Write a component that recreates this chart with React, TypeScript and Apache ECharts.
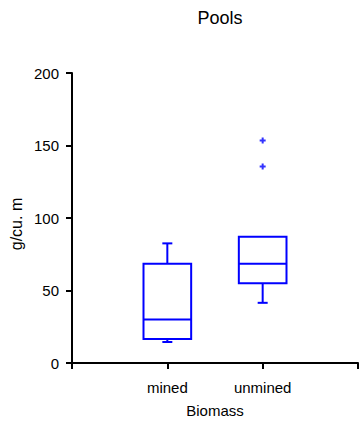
import React, { useEffect, useRef } from "react";
import * as echarts from "echarts";

const categories = ["", "mined", "unmined", ""];
// [category index, min, q1, median, q3, max]
const boxes = [
  [1, 14.5, 16.5, 30, 68.5, 82.5],
  [2, 41.5, 55, 68.5, 87, 87],
];
const outliers = [
  [2, 135.5],
  [2, 153.5],
];
const yTicks = { min: 0, max: 200, interval: 50 };

const BLUE = "#0000ff";
const FONT = "'Liberation Sans', Arial, sans-serif";

export default function App() {
  const ref = useRef<HTMLDivElement>(null);
  useEffect(() => {
    if (!ref.current) return;
    const chart = echarts.init(ref.current, null, { renderer: "svg" });
    chart.setOption({
      animation: false,
      backgroundColor: "#fff",
      title: {
        text: "Pools",
        left: 215,
        textAlign: "center",
        top: 4,
        textStyle: { fontFamily: FONT, fontSize: 18, fontWeight: "normal", color: "#000" },
      },
      graphic: [
        {
          type: "text",
          x: 16,
          y: 224,
          rotation: Math.PI / 2,
          style: {
            text: "g/cu. m",
            fontFamily: FONT,
            fontSize: 16,
            fill: "#000",
            align: "center",
            verticalAlign: "middle",
          },
        },
      ],
      grid: { left: 72, right: 4, top: 73, bottom: 60, containLabel: false, outerBoundsMode: "none" },
      xAxis: {
        type: "category",
        data: categories,
        boundaryGap: false,
        name: "Biomass",
        nameLocation: "middle",
        nameGap: 40,
        nameMoveOverlap: false,
        nameTextStyle: { fontFamily: FONT, fontSize: 15, color: "#000" },
        axisLine: { lineStyle: { color: "#000", width: 2 } },
        axisTick: { show: true, length: 6, alignWithLabel: true, lineStyle: { color: "#000", width: 2 } },
        axisLabel: { fontFamily: FONT, fontSize: 15, color: "#000", margin: 17, interval: 0 },
        splitLine: { show: false },
      },
      yAxis: {
        type: "value",
        min: yTicks.min,
        max: yTicks.max,
        interval: yTicks.interval,
        axisLine: { show: true, lineStyle: { color: "#000", width: 2 } },
        axisTick: { show: true, length: 6, lineStyle: { color: "#000", width: 2 } },
        axisLabel: { fontFamily: FONT, fontSize: 15, color: "#000", margin: 13 },
        splitLine: { show: false },
      },
      series: [
        {
          type: "custom",
          data: boxes,
          renderItem: (params: any, api: any) => {
            const x = api.value(0);
            const vmin = api.value(1);
            const q1 = api.value(2);
            const med = api.value(3);
            const q3 = api.value(4);
            const vmax = api.value(5);
            const band = api.size([1, 0])[0];
            const bw = band * 0.5;
            const cap = 10;
            const pMin = api.coord([x, vmin]);
            const pQ1 = api.coord([x, q1]);
            const pMed = api.coord([x, med]);
            const pQ3 = api.coord([x, q3]);
            const pMax = api.coord([x, vmax]);
            const cx = pMed[0];
            const style = { stroke: BLUE, lineWidth: 2, fill: "none" };
            const children: any[] = [
              {
                type: "rect",
                shape: { x: cx - bw / 2, y: pQ3[1], width: bw, height: pQ1[1] - pQ3[1] },
                style,
              },
              { type: "line", shape: { x1: cx - bw / 2, y1: pMed[1], x2: cx + bw / 2, y2: pMed[1] }, style },
            ];
            if (vmax > q3) {
              children.push({ type: "line", shape: { x1: cx, y1: pQ3[1], x2: cx, y2: pMax[1] }, style });
              children.push({ type: "line", shape: { x1: cx - cap / 2, y1: pMax[1], x2: cx + cap / 2, y2: pMax[1] }, style });
            }
            if (vmin < q1) {
              children.push({ type: "line", shape: { x1: cx, y1: pQ1[1], x2: cx, y2: pMin[1] }, style });
              children.push({ type: "line", shape: { x1: cx - cap / 2, y1: pMin[1], x2: cx + cap / 2, y2: pMin[1] }, style });
            }
            return { type: "group", children };
          },
          z: 3,
        },
        {
          type: "scatter",
          data: outliers,
          symbol: "path://M2,0H4V2H6V4H4V6H2V4H0V2H2Z",
          symbolSize: 6,
          itemStyle: { color: BLUE },
          z: 4,
        },
      ],
    });
    return () => chart.dispose();
  }, []);
  return <div ref={ref} style={{ width: 362, height: 423, position: "absolute", left: 0, top: 0 }} />;
}
